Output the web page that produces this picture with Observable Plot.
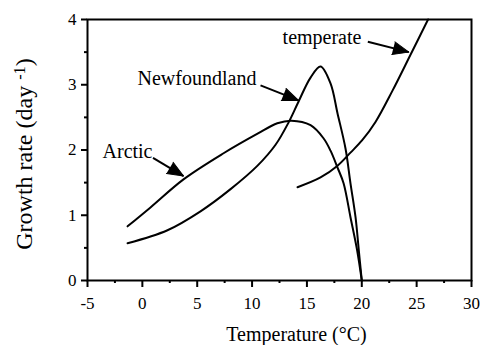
<!DOCTYPE html>
<html>
<head>
<meta charset="utf-8">
<script src="https://cdn.jsdelivr.net/npm/d3@7"></script>
<script src="https://cdn.jsdelivr.net/npm/@observablehq/plot@0.6"></script>
<style>
  html, body { margin: 0; padding: 0; background: #fff; }
  #chart svg { display: block; }
</style>
</head>
<body>
<div id="chart"></div>
<script>
// ---- data ----
const arcticT = [-1.35, 0.74, 3.75, 7.40, 10.5, 12.3, 13.6, 15.33, 16.51, 17.15, 17.79, 18.34, 18.97, 19.58, 20.0];
const arcticG = [0.83, 1.12, 1.55, 1.95, 2.25, 2.41, 2.45, 2.38, 2.18, 1.99, 1.73, 1.49, 0.97, 0.46, 0.0];

const newfT = [-1.35, 2.29, 5.30, 8.04, 10.5, 12.14, 13.32, 14.23, 15.33, 16.24, 17.15, 17.79, 18.52, 18.97, 19.43, 19.73, 20.0];
const newfG = [0.57, 0.77, 1.06, 1.40, 1.76, 2.08, 2.42, 2.74, 3.11, 3.28, 3.02, 2.56, 2.02, 1.49, 0.97, 0.46, 0.0];

const tempT = [14.14, 16.24, 17.79, 18.97, 20.04, 21.25, 22.80, 24.44, 26.04];
const tempG = [1.43, 1.58, 1.76, 1.96, 2.15, 2.43, 2.91, 3.46, 4.0];

const labelNames = ["Arctic", "Newfoundland", "temperate"];
const labelX = [-3.63, -0.44, 12.78];
const labelY = [1.98, 3.10, 3.72];
const arrowX1 = [0.97, 10.77, 20.55];
const arrowY1 = [1.88, 2.99, 3.66];
const arrowX2 = [3.75, 14.23, 24.29];
const arrowY2 = [1.60, 2.76, 3.50];

const xTicks = [-5, 0, 5, 10, 15, 20, 25, 30];
const xMinor = [-2.5, 2.5, 7.5, 12.5, 17.5, 22.5, 27.5];
const yTicks = [0, 1, 2, 3, 4];
const yMinor = [0.5, 1.5, 2.5, 3.5];

const xTitle = "Temperature (°C)";
const yTitle = "Growth rate (day-1)";

// ---- tables ----
const series = [
  ...arcticT.map((t, i) => ({series: "Arctic", t, g: arcticG[i]})),
  ...newfT.map((t, i) => ({series: "Newfoundland", t, g: newfG[i]})),
  ...tempT.map((t, i) => ({series: "temperate", t, g: tempG[i]}))
];
const labels = labelNames.map((name, i) => ({name, x: labelX[i], y: labelY[i]}));
const arrows = arrowX1.map((x1, i) => ({x1, y1: arrowY1[i], x2: arrowX2[i], y2: arrowY2[i]}));

const FONT = "'Liberation Serif', 'Times New Roman', serif";

function build(rot) {
  return Plot.plot({
    width: 486,
    height: 345,
    marginLeft: 87,
    marginRight: 15,
    marginTop: 19,
    marginBottom: 65,
    style: {fontFamily: FONT, background: "white", color: "black"},
    x: {domain: [-5, 30], axis: null},
    y: {domain: [0, 4], axis: null},
    marks: [
      Plot.axisX({ticks: xMinor, tickSize: 3, text: null, strokeWidth: 2, label: null}),
      Plot.axisX({ticks: xTicks, tickSize: 7, tickPadding: 9, strokeWidth: 2, fontSize: 17,
                  fontFamily: FONT, fontVariant: "normal",
                  tickFormat: d => String(d), label: null}),
      Plot.axisY({ticks: yMinor, tickSize: 3, text: null, strokeWidth: 2, label: null}),
      Plot.axisY({ticks: yTicks, tickSize: 6, tickPadding: 5, strokeWidth: 2, fontSize: 17,
                  fontFamily: FONT, fontVariant: "normal",
                  tickFormat: d => String(d), label: null}),
      Plot.frame({strokeWidth: 2}),
      Plot.line(series, {x: "t", y: "g", z: "series", stroke: "black", strokeWidth: 2, curve: "catmull-rom"}),
      Plot.link(arrows, {x1: "x1", y1: "y1", x2: "x2", y2: "y2", stroke: "black", strokeWidth: 2}),
      Plot.vector(arrows, {x: "x2", y: "y2", length: 16, r: 6.5, shape: "spike", anchor: "end",
                           rotate: (d, i) => rot[i], fill: "black", stroke: "black", strokeWidth: 1}),
      Plot.text(labels, {x: "x", y: "y", text: "name", textAnchor: "start", lineAnchor: "middle",
                         fontSize: 20, fontFamily: FONT, fill: "black"}),
      Plot.text([xTitle], {frameAnchor: "bottom", textAnchor: "middle", dx: 17, dy: 60, lineAnchor: "bottom",
                           fontSize: 20, fontFamily: FONT, fill: "black"}),
      Plot.text([yTitle], {frameAnchor: "left", textAnchor: "middle", dx: -63, dy: 4, rotate: -90,
                           lineAnchor: "middle", fontSize: 24, fontFamily: FONT, fill: "black"})
    ]
  });
}

// first pass to obtain the scales, then compute arrow-head angles in screen space
let plot = build(arrows.map(() => 0));
const sx = plot.scale("x"), sy = plot.scale("y");
const rot = arrows.map(a => {
  const dx = sx.apply(a.x2) - sx.apply(a.x1);
  const dy = sy.apply(a.y2) - sy.apply(a.y1);
  return Math.atan2(dx, -dy) * 180 / Math.PI;
});
plot = build(rot);
document.getElementById("chart").appendChild(plot);

// superscript for the y title
d3.select(plot).selectAll("text").each(function() {
  if (this.textContent === yTitle) {
    const el = d3.select(this);
    el.text(null);
    el.append("tspan").text("Growth rate (day ");
    el.append("tspan").attr("dy", "-0.45em").attr("font-size", "0.68em").text("-1");
    el.append("tspan").attr("dy", "0.31em").text(")");
  }
});
</script>
</body>
</html>
